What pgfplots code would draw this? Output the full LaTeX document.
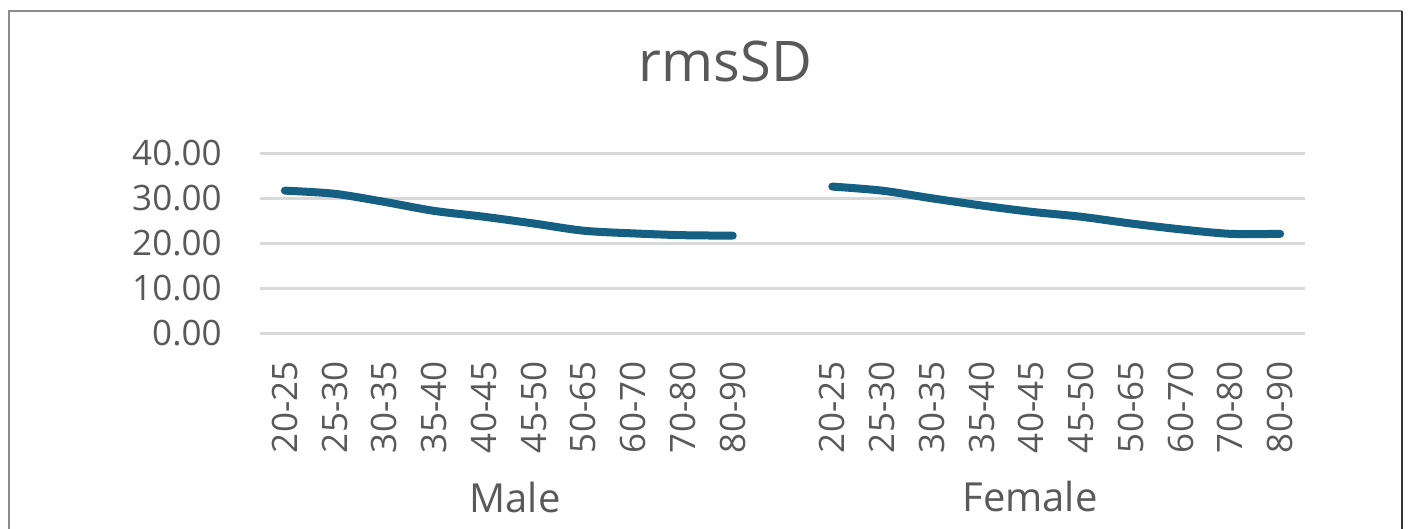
\documentclass[border=0pt]{standalone}
\usepackage{fontspec}
\setmainfont{Open Sans}
\usepackage{pgfplots}
\pgfplotsset{compat=1.18}
\definecolor{linecol}{HTML}{156082}
\definecolor{txt}{HTML}{595959}
\definecolor{gridcol}{HTML}{D9D9D9}
\definecolor{framecol}{HTML}{8C8C8C}

\begin{document}
\begin{tikzpicture}
\useasboundingbox (0,0) rectangle (704.5pt,264.5pt);
\fill[white] (0,0) rectangle (704.5pt,264.5pt);
% chart frame (bottom edge runs off the page)
\draw[framecol, line width=1pt] (4.65pt,-2pt) -- (4.65pt,259pt) -- (701pt,259pt);
\draw[black!80, line width=1.2pt] (701pt,259pt) -- (701pt,-2pt);

\begin{axis}[
  at={(130pt,97.85pt)}, anchor=south west,
  scale only axis, width=522.5pt, height=90pt,
  xmin=-0.5, xmax=20.5, ymin=0, ymax=40,
  clip=false,
  axis line style={draw=none},
  tick style={draw=none},
  ymajorgrids,
  major grid style={gridcol, line width=1.3pt},
  ytick={0,10,20,30,40},
  xtick={0,1,2,3,4,5,6,7,8,9,11,12,13,14,15,16,17,18,19,20},
  xticklabels={20-25,25-30,30-35,35-40,40-45,45-50,50-65,60-70,70-80,80-90,
               20-25,25-30,30-35,35-40,40-45,45-50,50-65,60-70,70-80,80-90},
  /pgf/number format/assume math mode=true,
  tick label style={font=\fontsize{17.5}{20}\selectfont, text=txt, inner sep=0pt},
  yticklabel style={anchor=east, /pgf/number format/fixed,
    /pgf/number format/precision=2, /pgf/number format/fixed zerofill},
  yticklabel shift=19pt,
  xticklabel style={rotate=90, anchor=east},
  xticklabel shift=14pt,
]
% Male
\addplot[linecol, line width=4pt, line cap=round, line join=round, smooth]
  coordinates {(0,31.7) (1,31.0) (2,29.2) (3,27.2) (4,25.9) (5,24.4)
               (6,22.8) (7,22.2) (8,21.8) (9,21.7)};
% Female
\addplot[linecol, line width=4pt, line cap=round, line join=round, smooth]
  coordinates {(11,32.6) (12,31.7) (13,30.0) (14,28.4) (15,27.0) (16,25.9)
               (17,24.4) (18,23.1) (19,22.1) (20,22.1)};
\end{axis}

% title and group labels
\node[anchor=base, text=txt, font=\fontsize{28}{32}\selectfont, inner sep=0pt]
  at (362.75pt,223.65pt) {rmsSD};
\node[anchor=base, text=txt, font=\fontsize{20}{24}\selectfont, inner sep=0pt]
  at (257.5pt,8pt) {Male};
\node[anchor=base, text=txt, font=\fontsize{20}{24}\selectfont, inner sep=0pt]
  at (515pt,8.5pt) {Female};
\end{tikzpicture}
\end{document}
